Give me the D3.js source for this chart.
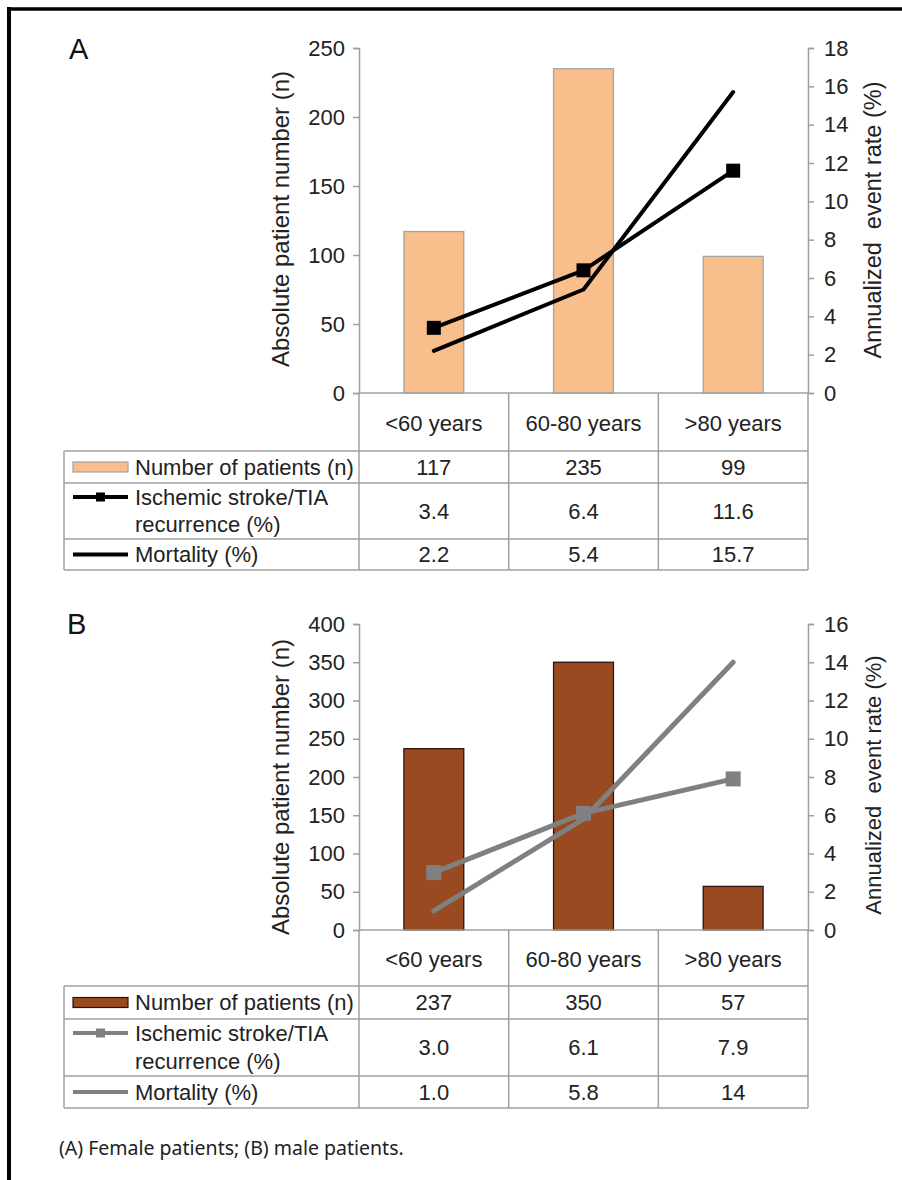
<!DOCTYPE html>
<html><head><meta charset="utf-8">
<script src="https://cdn.jsdelivr.net/npm/d3@7"></script>
<style>body{margin:0;background:#fff}svg{display:block}</style>
</head><body>
<script>
// ---- data ----
const categories = ["<60 years", "60-80 years", ">80 years"];
const femalePatients = [117, 235, 99];
const femaleIschemic = [3.4, 6.4, 11.6];
const femaleMortality = [2.2, 5.4, 15.7];
const femaleIschemicLabels = ["3.4", "6.4", "11.6"];
const femaleMortalityLabels = ["2.2", "5.4", "15.7"];
const malePatients = [237, 350, 57];
const maleIschemic = [3.0, 6.1, 7.9];
const maleMortality = [1.0, 5.8, 14];
const maleIschemicLabels = ["3.0", "6.1", "7.9"];
const maleMortalityLabels = ["1.0", "5.8", "14"];
const leftTicksA = [0, 50, 100, 150, 200, 250];
const rightTicksA = [0, 2, 4, 6, 8, 10, 12, 14, 16, 18];
const leftTicksB = [0, 50, 100, 150, 200, 250, 300, 350, 400];
const rightTicksB = [0, 2, 4, 6, 8, 10, 12, 14, 16];
const rowLabels = ["Number of patients (n)", "Ischemic stroke/TIA", "recurrence (%)", "Mortality (%)"];
const caption = "(A) Female patients; (B) male patients.";

const W = 902, H = 1180;
const FONT = "'Liberation Sans', Arial, sans-serif";
const svg = d3.select("body").append("svg").attr("width", W).attr("height", H);

// frame
svg.append("line").attr("x1", 9).attr("x2", 9).attr("y1", 7).attr("y2", H).attr("stroke", "#000").attr("stroke-width", 4);
svg.append("line").attr("x1", 7).attr("x2", W).attr("y1", 9).attr("y2", 9).attr("stroke", "#000").attr("stroke-width", 3.5);

function panel(cfg) {
  const g = svg.append("g");
  const x = d3.scaleBand().domain(categories).range([359, 808]).paddingInner(0.6).paddingOuter(0.3);
  const yL = d3.scaleLinear().domain([0, cfg.leftMax]).range([cfg.bottom, cfg.top]);
  const yR = d3.scaleLinear().domain([0, cfg.rightMax]).range([cfg.bottom, cfg.top]);
  const cx = c => x(c) + x.bandwidth() / 2;
  const axisColor = "#a0a0a0";

  // panel letter
  g.append("text").attr("x", cfg.letterX).attr("y", cfg.letterY).text(cfg.letter)
    .attr("font-family", FONT).attr("font-size", 29).attr("fill", "#111");

  // bars
  g.selectAll("rect.bar").data(cfg.patients).join("rect").attr("class", "bar")
    .attr("x", (d, i) => x(categories[i])).attr("width", x.bandwidth())
    .attr("y", d => yL(d)).attr("height", d => yL(0) - yL(d))
    .attr("fill", cfg.barFill).attr("stroke", cfg.barStroke).attr("stroke-width", 1.3);

  // axes
  const la = d3.axisLeft(yL).tickValues(cfg.leftTicks).tickSize(6).tickPadding(8);
  const lg = g.append("g").attr("transform", "translate(359,0)").call(la);
  const ra = d3.axisRight(yR).tickValues(cfg.rightTicks).tickSize(6).tickPadding(10);
  const rg = g.append("g").attr("transform", "translate(808,0)").call(ra);
  [lg, rg].forEach(a => {
    a.select(".domain").attr("stroke", axisColor).attr("stroke-width", 1.5);
    a.selectAll(".tick line").attr("stroke", axisColor).attr("stroke-width", 1.5);
    a.selectAll("text").attr("font-family", FONT).attr("font-size", 22).attr("fill", "#222");
  });
  // baseline
  g.append("line").attr("x1", 359).attr("x2", 808).attr("y1", yL(0)).attr("y2", yL(0))
    .attr("stroke", axisColor).attr("stroke-width", 1.5);

  // axis titles
  g.append("text").attr("transform", `translate(${cfg.lTitleX},${cfg.lTitleY}) rotate(-90)`)
    .attr("text-anchor", "middle").attr("dominant-baseline", "central")
    .attr("font-family", FONT).attr("font-size", cfg.lTitleSize).attr("fill", "#222")
    .text("Absolute patient number (n)");
  g.append("text").attr("transform", `translate(${cfg.rTitleX},${cfg.rTitleY}) rotate(-90)`)
    .attr("text-anchor", "middle").attr("dominant-baseline", "central")
    .attr("font-family", FONT).attr("font-size", cfg.rTitleSize).attr("fill", "#222")
    .style("white-space", "pre")
    .text("Annualized  event rate (%)");

  // lines
  const line = d3.line().x((d, i) => cx(categories[i])).y(d => yR(d));
  g.append("path").datum(cfg.mortality).attr("d", line).attr("fill", "none")
    .attr("stroke", cfg.lineColor).attr("stroke-width", cfg.lineW).attr("stroke-linecap", "round").attr("stroke-linejoin", "round");
  g.append("path").datum(cfg.ischemic).attr("d", line).attr("fill", "none")
    .attr("stroke", cfg.lineColor).attr("stroke-width", cfg.lineW).attr("stroke-linejoin", "round");
  const ms = cfg.markerSize;
  g.selectAll("rect.mk").data(cfg.ischemic).join("rect").attr("class", "mk")
    .attr("x", (d, i) => cx(categories[i]) - ms / 2).attr("y", d => yR(d) - ms / 2)
    .attr("width", ms).attr("height", ms).attr("fill", cfg.lineColor);

  // table
  const tc = "#a0a0a0";
  const step = x.step();
  const colX = [0, 1, 2, 3].map(i => x.range()[0] + i * step);
  const rows = cfg.rows; // [headerTop, r1Top, r2Top, r3Top, bottom]
  const left = 64;
  colX.forEach(cxx => {
    g.append("line").attr("x1", cxx).attr("x2", cxx).attr("y1", rows[0]).attr("y2", rows[4]).attr("stroke", tc).attr("stroke-width", 1.5);
  });
  g.append("line").attr("x1", left).attr("x2", left).attr("y1", rows[1]).attr("y2", rows[4]).attr("stroke", tc).attr("stroke-width", 1.5);
  [1, 2, 3, 4].forEach(r => {
    g.append("line").attr("x1", left).attr("x2", colX[3]).attr("y1", rows[r]).attr("y2", rows[r]).attr("stroke", tc).attr("stroke-width", 1.5);
  });
  const txt = (tx, ty, s, anchor) => g.append("text").attr("x", tx).attr("y", ty).text(s)
    .attr("text-anchor", anchor || "middle").attr("dominant-baseline", "central")
    .attr("font-family", FONT).attr("font-size", 22).attr("fill", "#222");
  categories.forEach(c => txt(cx(c), cfg.headerY, c));
  // row 1
  const r1y = (rows[1] + rows[2]) / 2;
  g.append("rect").attr("x", 73).attr("y", r1y - 5).attr("width", 55).attr("height", 10)
    .attr("fill", cfg.barFill).attr("stroke", cfg.barStroke).attr("stroke-width", 1.2);
  txt(135, r1y, rowLabels[0], "start");
  cfg.patients.forEach((v, i) => txt(cx(categories[i]), r1y, String(v)));
  // row 2
  const r2y = (rows[2] + rows[3]) / 2;
  const l1 = rows[2] + 14, l2 = rows[3] - 15;
  g.append("line").attr("x1", 73).attr("x2", 128).attr("y1", l1).attr("y2", l1).attr("stroke", cfg.lineColor).attr("stroke-width", 4);
  g.append("rect").attr("x", 96).attr("y", l1 - 4.5).attr("width", 9).attr("height", 9).attr("fill", cfg.lineColor);
  txt(135, l1, rowLabels[1], "start");
  txt(135, l2, rowLabels[2], "start");
  cfg.ischemicLabels.forEach((v, i) => txt(cx(categories[i]), r2y, v));
  // row 3
  const r3y = (rows[3] + rows[4]) / 2;
  g.append("line").attr("x1", 73).attr("x2", 128).attr("y1", r3y).attr("y2", r3y).attr("stroke", cfg.lineColor).attr("stroke-width", 4);
  txt(135, r3y, rowLabels[3], "start");
  cfg.mortalityLabels.forEach((v, i) => txt(cx(categories[i]), r3y, v));
}

panel({
  letter: "A", letterX: 69, letterY: 59,
  top: 48, bottom: 393, leftMax: 250, rightMax: 18,
  leftTicks: leftTicksA, rightTicks: rightTicksA,
  patients: femalePatients, ischemic: femaleIschemic, mortality: femaleMortality,
  ischemicLabels: femaleIschemicLabels, mortalityLabels: femaleMortalityLabels,
  barFill: "#F8BF8D", barStroke: "#a3a3a3", lineColor: "#000", lineW: 4, markerSize: 14,
  lTitleX: 280, lTitleY: 219, lTitleSize: 24,
  rTitleX: 873, rTitleY: 220, rTitleSize: 23.5,
  rows: [393, 451, 483, 539, 570], headerY: 423
});
panel({
  letter: "B", letterX: 67, letterY: 634,
  top: 624, bottom: 930, leftMax: 400, rightMax: 16,
  leftTicks: leftTicksB, rightTicks: rightTicksB,
  patients: malePatients, ischemic: maleIschemic, mortality: maleMortality,
  ischemicLabels: maleIschemicLabels, mortalityLabels: maleMortalityLabels,
  barFill: "#994A20", barStroke: "#2a140a", lineColor: "#808080", lineW: 5, markerSize: 15,
  lTitleX: 280, lTitleY: 787, lTitleSize: 24,
  rTitleX: 873, rTitleY: 785, rTitleSize: 22,
  rows: [930, 986, 1019, 1076, 1108], headerY: 959
});

svg.append("text").attr("x", 59).attr("y", 1147).attr("dominant-baseline", "central")
  .attr("font-family", "'Noto Sans', sans-serif").attr("font-size", 19.5).attr("fill", "#222")
  .text(caption);
</script>
</body></html>
